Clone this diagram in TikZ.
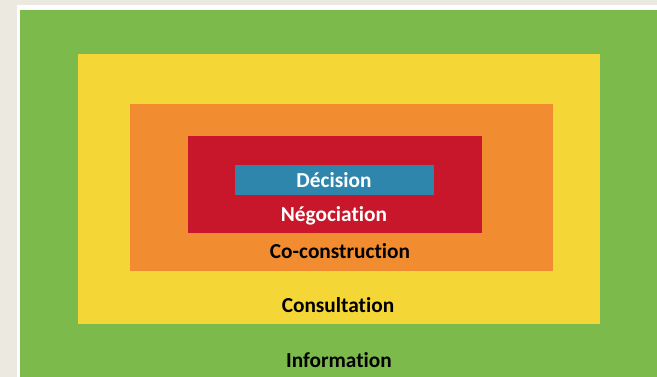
\documentclass[tikz,border=0pt]{standalone}
\usepackage{fontspec}
\setmainfont{Carlito}[Ligatures={NoCommon}]
\usetikzlibrary{positioning}
\definecolor{paper}{HTML}{ECE9E1}
\definecolor{infogreen}{HTML}{7CBB4B}
\definecolor{consyellow}{HTML}{F4D636}
\definecolor{coorange}{HTML}{F18D30}
\definecolor{negred}{HTML}{C8172A}
\definecolor{decblue}{HTML}{2E86AC}
\tikzset{
	level/.style={draw=none},
	levellabel/.style={font=\fontsize{16}{19}\selectfont\bfseries, anchor=base, inner sep=0pt},
	darklabel/.style={levellabel, text=black},
	lightlabel/.style={levellabel, text=white}
}
\begin{document}
\begin{tikzpicture}[x=0.75pt,y=-0.75pt]
				\useasboundingbox (0,0) rectangle (657,377);
				%%%% background and frame
				\fill[paper] (0,0) rectangle (657,377);
				\fill[white] (17,5) rectangle (657,377);
				
				%%%% nested levels
				\fill[level,infogreen] (20,10) rectangle (657,377);
				\fill[level,consyellow] (78,54) rectangle (600,324);
				\fill[level,coorange] (130,104) rectangle (553,271);
				\fill[level,negred] (188,136) rectangle (482,233);
				\fill[level,decblue] (235,165) rectangle (434,195);
				
				%%%% labels
				\node[lightlabel] (decision) at (334,188) {Décision};
				\node[lightlabel] (negociation) at (334,222) {Négociation};
				\node[darklabel] (coconstruction) at (340,259) {Co-construction};
				\node[darklabel] (consultation) at (338,313) {Consultation};
				\node[darklabel] (information) at (339,368) {Information};
		\end{tikzpicture}
\end{document}
